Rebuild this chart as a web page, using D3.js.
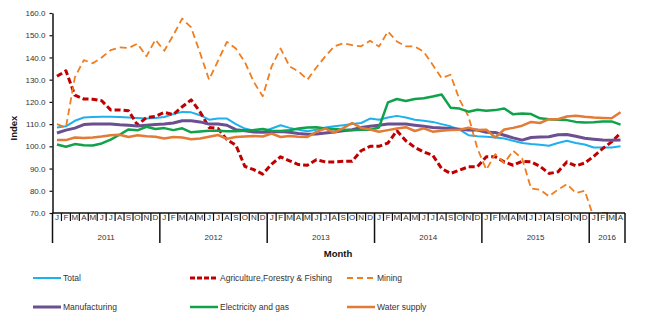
<!DOCTYPE html>
<html lang="en">
<head>
    <meta charset="UTF-8">
    <title>Index by Month</title>
    <script src="https://cdnjs.cloudflare.com/ajax/libs/d3/7.8.5/d3.min.js"></script>
    <style>
        * {
            margin: 0;
            padding: 0;
            box-sizing: border-box;
        }

        body {
            background-color: white;
            font-family: 'Liberation Sans', Arial, sans-serif;
        }

        #chart {
            width: 655px;
            height: 326px;
        }

        .tick text {
            font-size: 8px;
            fill: #333;
        }
    </style>
</head>
<body>
    <div id="chart"></div>

    <script>
        // Months Jan 2011 .. Apr 2016
        const monthLetters = ['J', 'F', 'M', 'A', 'M', 'J', 'J', 'A', 'S', 'O', 'N', 'D'];
        const years = ['2011', '2012', '2013', '2014', '2015', '2016'];
        const monthsPerYear = [12, 12, 12, 12, 12, 4];
        const yTicks = [70, 80, 90, 100, 110, 120, 130, 140, 150, 160];

        const total = [
            108.5, 109, 111.5, 113, 113.2, 113.3, 113.3, 113.2, 113, 112.8, 112.5, 112.7,
            113.2, 114.5, 115.5, 115.3, 114, 112, 112.5, 112.5, 110, 108, 107, 106.5,
            108, 109.5, 108.3, 107.5, 106.8, 107.5, 108.5, 109, 109.5, 110, 110.5, 112.5,
            112, 113, 113.7, 113, 112, 111.5, 111, 110, 109, 107.5, 105, 104.5,
            104.3, 104, 103.5, 102.5, 101.5, 101, 100.7, 100.3, 101.5, 102.5, 101.5, 100.8,
            99.5, 99.5, 99.5, 100
        ];
        const agriculture = [
            131.5, 134, 123, 121.3, 121.2, 120.5, 116.4, 116.4, 116, 109.6, 113, 113.5,
            115.3, 114.3, 117.8, 120.9, 115.5, 108.5, 108, 103, 100.5, 91, 89.5, 87.5,
            92, 95.3, 93.5, 91.8, 91.5, 94, 93, 93, 93.3, 93.3, 98, 100,
            100, 101.5, 107, 102.5, 99.5, 97.5, 96, 90, 87.8, 89.3, 90.8, 90.8,
            95.3, 95.3, 93, 91.5, 93.3, 93, 91, 87.8, 88.5, 93, 91.2, 92.5,
            95.5, 99, 102, 106
        ];
        const mining = [
            110, 108.5, 131, 138.8, 137.4, 140, 143.3, 144.5, 144.2, 146.2, 140.5, 148,
            143, 150, 157.5, 153.5, 142, 130, 138.5, 147, 144, 138, 129, 122.5,
            136, 144, 136, 133.7, 130, 135.5, 140.5, 145, 146.4, 145.5, 145, 147.5,
            144.9, 151.7, 147.2, 145, 145, 142.5, 136.7, 130.7, 132.2, 121, 113.5, 99,
            89.5, 96.5, 92.5, 98, 94.5, 81, 80.5, 77.5, 80.5, 83, 79, 80,
            68, 70, 70, 67
        ];
        const manufacturing = [
            106, 107.3, 108.2, 109.8, 110, 110, 110, 109.7, 109.5, 109.2, 109.5, 109.8,
            110, 110.5, 111.5, 111.5, 111, 110, 110, 109.5, 107.5, 107, 106.5, 106.3,
            106.5, 106.7, 106.3, 105.8, 105.4, 105.5, 106, 106.5, 107, 107.5, 108.5, 109,
            109.5, 110, 110, 110, 109.5, 109, 108.5, 108.3, 108, 107.7, 107.3, 107.3,
            106.3, 106.2, 105, 103.8, 102.8, 104, 104.2, 104.3, 105.2, 105.3, 104.5, 103.6,
            103.2, 102.8, 102.7, 102.8
        ];
        const electricity = [
            100.8, 99.8, 101, 100.5, 100.4, 101.3, 103, 105.2, 107.6, 107.2, 108.8, 107.8,
            108.2, 107.3, 108.1, 106.3, 106.7, 107, 107, 106.8, 106.8, 107, 107.3, 107.8,
            107, 106.9, 107.2, 108, 108.5, 108.6, 108, 107.8, 107.5, 107.2, 107.5, 107.5,
            108.5, 119.8, 121.3, 120.4, 121.3, 121.6, 122.4, 123.3, 117.4, 117, 115.6, 116.5,
            116, 116.3, 117, 114.4, 114.8, 114.5, 112.6, 112.2, 112, 111.8, 111, 110.7,
            110.8, 111.2, 111.2, 109.8
        ];
        const water = [
            102.8, 102.8, 104, 103.8, 104, 104.4, 105, 105.2, 104.2, 105, 104.5, 104.3,
            103.5, 104.2, 104, 103.2, 103.5, 104.3, 105.1, 103.4, 104.2, 104.4, 104.6, 104.4,
            105.7, 104.2, 104.6, 104.3, 104.2, 106.5, 108, 106.2, 108.2, 110.5, 108.3, 107.6,
            106.6, 107.3, 108, 108.6, 106.9, 108.1, 106.6, 107, 107.3, 107.5, 108.4, 107.3,
            107.5, 104, 107.6, 108.3, 109.3, 111, 110.5, 112.2, 112.2, 113.4, 113.8, 113.3,
            113, 112.8, 112.6, 115.3
        ];

        const series = [
            { name: 'Total', values: total, color: '#1fb0ee', width: 2, dash: null },
            { name: 'Agriculture,Forestry & Fishing', values: agriculture, color: '#c00000', width: 3, dash: '6,3' },
            { name: 'Mining', values: mining, color: '#f07d1e', width: 1.8, dash: '7,4' },
            { name: 'Manufacturing', values: manufacturing, color: '#6b4f91', width: 3, dash: null },
            { name: 'Electricity and gas', values: electricity, color: '#10a24a', width: 2.5, dash: null },
            { name: 'Water supply', values: water, color: '#e27b35', width: 2.5, dash: null }
        ];

        // month categories
        const categories = [];
        years.forEach((yr, yi) => {
            for (let m = 0; m < monthsPerYear[yi]; m++) {
                categories.push({ year: yr, label: monthLetters[m], index: categories.length });
            }
        });

        const width = 655, height = 326;
        const plot = { left: 52.5, right: 625, top: 13, bottom: 213 };

        const svg = d3.select('#chart')
            .append('svg')
            .attr('width', width)
            .attr('height', height);

        const x = d3.scaleBand()
            .domain(categories.map(d => d.index))
            .range([plot.left, plot.right])
            .padding(0);

        const y = d3.scaleLinear()
            .domain([70, 160])
            .range([plot.bottom, plot.top]);

        svg.append('clipPath')
            .attr('id', 'plot-clip')
            .append('rect')
            .attr('x', plot.left)
            .attr('y', plot.top - 2)
            .attr('width', plot.right - plot.left)
            .attr('height', plot.bottom - plot.top + 2);

        // Y axis
        const yAxis = svg.append('g')
            .attr('transform', `translate(${plot.left},0)`)
            .call(d3.axisLeft(y)
                .tickValues(yTicks)
                .tickFormat(d3.format('.1f'))
                .tickSize(3)
                .tickSizeOuter(0)
                .tickPadding(4));
        yAxis.select('.domain').attr('stroke', '#111').attr('stroke-width', 1.5);
        yAxis.selectAll('.tick line').attr('stroke', '#111').attr('stroke-width', 1.2);
        yAxis.selectAll('.tick text').attr('font-family', "'Liberation Sans', Arial, sans-serif");

        // Lines
        const line = d3.line()
            .x((d, i) => x(i) + x.bandwidth() / 2)
            .y(d => y(d));

        svg.append('g')
            .attr('clip-path', 'url(#plot-clip)')
            .selectAll('path')
            .data(series)
            .enter()
            .append('path')
            .attr('d', d => line(d.values))
            .attr('fill', 'none')
            .attr('stroke', d => d.color)
            .attr('stroke-width', d => d.width)
            .attr('stroke-dasharray', d => d.dash)
            .attr('stroke-linejoin', 'round');

        // X axis: month cells and year groups
        const xAxis = svg.append('g');
        xAxis.append('line')
            .attr('x1', plot.left).attr('x2', plot.right)
            .attr('y1', plot.bottom).attr('y2', plot.bottom)
            .attr('stroke', '#111').attr('stroke-width', 1.5);

        xAxis.selectAll('.month-sep')
            .data(categories.slice(1))
            .enter()
            .append('line')
            .attr('x1', d => x(d.index)).attr('x2', d => x(d.index))
            .attr('y1', plot.bottom).attr('y2', d => d.label === 'J' && categories[d.index - 1].year !== d.year ? 243 : 221)
            .attr('stroke', '#111')
            .attr('stroke-width', d => d.label === 'J' && categories[d.index - 1].year !== d.year ? 1.5 : 1.2);

        [plot.left, plot.right].forEach(px => {
            xAxis.append('line')
                .attr('x1', px).attr('x2', px)
                .attr('y1', plot.bottom).attr('y2', 243)
                .attr('stroke', '#111').attr('stroke-width', 1.5);
        });

        xAxis.selectAll('.month-label')
            .data(categories)
            .enter()
            .append('text')
            .attr('x', d => x(d.index) + x.bandwidth() / 2)
            .attr('y', 220)
            .attr('text-anchor', 'middle')
            .attr('font-size', 8)
            .attr('fill', '#333')
            .text(d => d.label);

        xAxis.selectAll('.year-label')
            .data(years)
            .enter()
            .append('text')
            .attr('x', yr => {
                const inYear = categories.filter(c => c.year === yr);
                return (x(inYear[0].index) + x(inYear[inYear.length - 1].index) + x.bandwidth()) / 2;
            })
            .attr('y', 240)
            .attr('text-anchor', 'middle')
            .attr('font-size', 8)
            .attr('fill', '#333')
            .text(yr => yr);

        // Axis titles
        svg.append('text')
            .attr('x', 338)
            .attr('y', 257)
            .attr('text-anchor', 'middle')
            .attr('font-size', 9.5)
            .attr('font-weight', 'bold')
            .attr('fill', '#111')
            .text('Month');

        svg.append('text')
            .attr('transform', 'translate(17,128) rotate(-90)')
            .attr('text-anchor', 'middle')
            .attr('font-size', 9.5)
            .attr('font-weight', 'bold')
            .attr('fill', '#111')
            .text('Index');

        // Legend
        const legendCols = [33, 190, 347];
        const legendRows = [278, 307];
        const legend = svg.selectAll('.legend')
            .data(series)
            .enter()
            .append('g')
            .attr('transform', (d, i) => `translate(${legendCols[i % 3]},${legendRows[Math.floor(i / 3)]})`);

        legend.append('line')
            .attr('x1', 0).attr('x2', 28)
            .attr('stroke', d => d.color)
            .attr('stroke-width', d => d.width)
            .attr('stroke-dasharray', d => d.dash ? (d.dash === '6,3' ? '5,2' : '6,4') : null);

        legend.append('text')
            .attr('x', 30)
            .attr('y', 3)
            .attr('font-size', 8.5)
            .attr('fill', '#333')
            .text(d => d.name);
    </script>
</body>
</html>
